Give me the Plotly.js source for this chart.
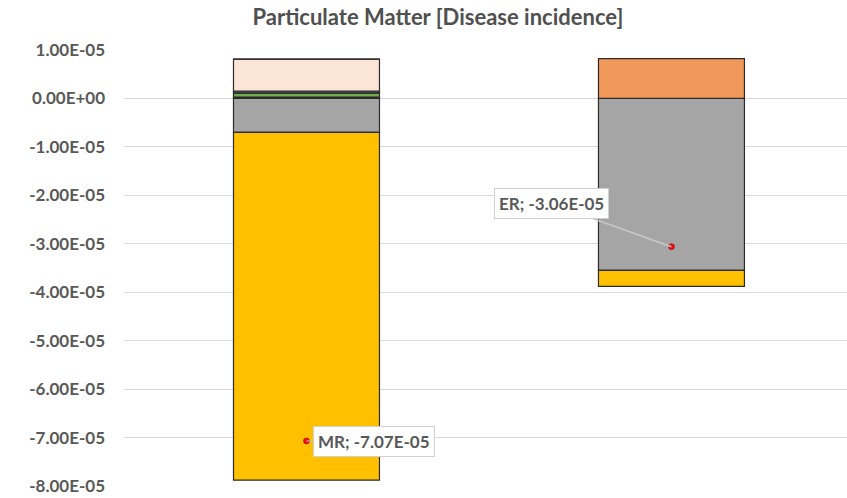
<!DOCTYPE html>
<html>
<head>
<meta charset="utf-8">
<script src="https://cdn.plot.ly/plotly-3.0.1.min.js"></script>
<style>html,body{margin:0;padding:0;background:#fff;}#chart{width:847px;height:498px;}</style>
</head>
<body>
<div id="chart"></div>
<script>
// Categories
const categories = ['MR', 'ER'];
// Stacked series (relative stacking: first trace sits nearest zero)
const seriesGray   = [-0.70e-5, -3.55e-5];
const seriesYellow = [-7.18e-5, -0.33e-5];
const seriesBlack  = [0.03e-5, 0];
const seriesGreen  = [0.08e-5, 0];
const seriesBlue   = [0.04e-5, 0];
const seriesPink   = [0.66e-5, 0];
const seriesOrange = [0, 0.82e-5];
// Net results
const netValues = [-7.07e-5, -3.06e-5];
const netLabels = ['MR; -7.07E-05', 'ER; -3.06E-05'];
// Y tick labels
const tickVals = [1e-5, 0, -1e-5, -2e-5, -3e-5, -4e-5, -5e-5, -6e-5, -7e-5, -8e-5];
const tickText = ['1.00E-05', '0.00E+00', '-1.00E-05', '-2.00E-05', '-3.00E-05', '-4.00E-05', '-5.00E-05', '-6.00E-05', '-7.00E-05', '-8.00E-05'];

const outline = {color: '#2b2b2b', width: 1.2};
function bar(vals, color) {
  return {type: 'bar', x: categories, y: vals, width: 0.4,
    marker: {color: color, line: outline}, hoverinfo: 'skip', showlegend: false};
}
const traces = [
  bar(seriesGray, '#A5A5A5'),
  bar(seriesYellow, '#FFC000'),
  bar(seriesBlack, '#1f1f1f'),
  bar(seriesGreen, '#70AD47'),
  bar(seriesBlue, '#44546A'),
  bar(seriesPink, '#FBE5D6'),
  bar(seriesOrange, '#F0995A'),
  {type: 'scatter', mode: 'markers', x: categories, y: netValues,
   marker: {color: '#E81010', size: 6, line: {color: '#A00000', width: 0.5}},
   showlegend: false, hoverinfo: 'skip'}
];

const labelFont = {family: 'Lato, "Open Sans", sans-serif', size: 17, color: '#595959', weight: 'bold'};
const annotations = [
  {x: categories[0], y: netValues[0], xref: 'x', yref: 'y', text: netLabels[0],
   showarrow: true, arrowhead: 0, arrowwidth: 1, arrowcolor: '#C8C8C8', ax: 68, ay: 1,
   bgcolor: '#ffffff', bordercolor: '#D0D0D0', borderwidth: 1, borderpad: 4, font: labelFont},
  {x: categories[1], y: netValues[1], xref: 'x', yref: 'y', text: netLabels[1],
   showarrow: true, arrowhead: 0, arrowwidth: 1.5, arrowcolor: '#C8C8C8', ax: -120, ay: -43,
   bgcolor: '#ffffff', bordercolor: '#D0D0D0', borderwidth: 1, borderpad: 4, font: labelFont}
];

const layout = {
  width: 847, height: 498,
  margin: {l: 124, r: 0, t: 50, b: 12, pad: 0},
  paper_bgcolor: '#ffffff', plot_bgcolor: '#ffffff',
  barmode: 'relative',
  title: {text: 'Particulate Matter [Disease incidence]', x: 0.517, xanchor: 'center',
          y: 1 - 17/498, yanchor: 'middle', yref: 'container',
          font: {family: 'Lato, "Open Sans", sans-serif', size: 22, color: '#505050', weight: 'bold'}},
  xaxis: {type: 'category', range: [-0.5, 1.481], showticklabels: false, showgrid: false,
          zeroline: false, showline: false, ticks: ''},
  yaxis: {range: [-8e-5, 1e-5], tickvals: tickVals, ticktext: tickText,
          tickfont: {family: 'Lato, "Open Sans", sans-serif', size: 17, color: '#595959', weight: 'bold'},
          showgrid: true, gridcolor: '#D9D9D9', gridwidth: 1, zeroline: false, showline: false,
          ticks: '', ticklabelstandoff: 18},
  annotations: annotations
};

Plotly.newPlot('chart', traces, layout, {staticPlot: true, displayModeBar: false});
</script>
</body>
</html>
